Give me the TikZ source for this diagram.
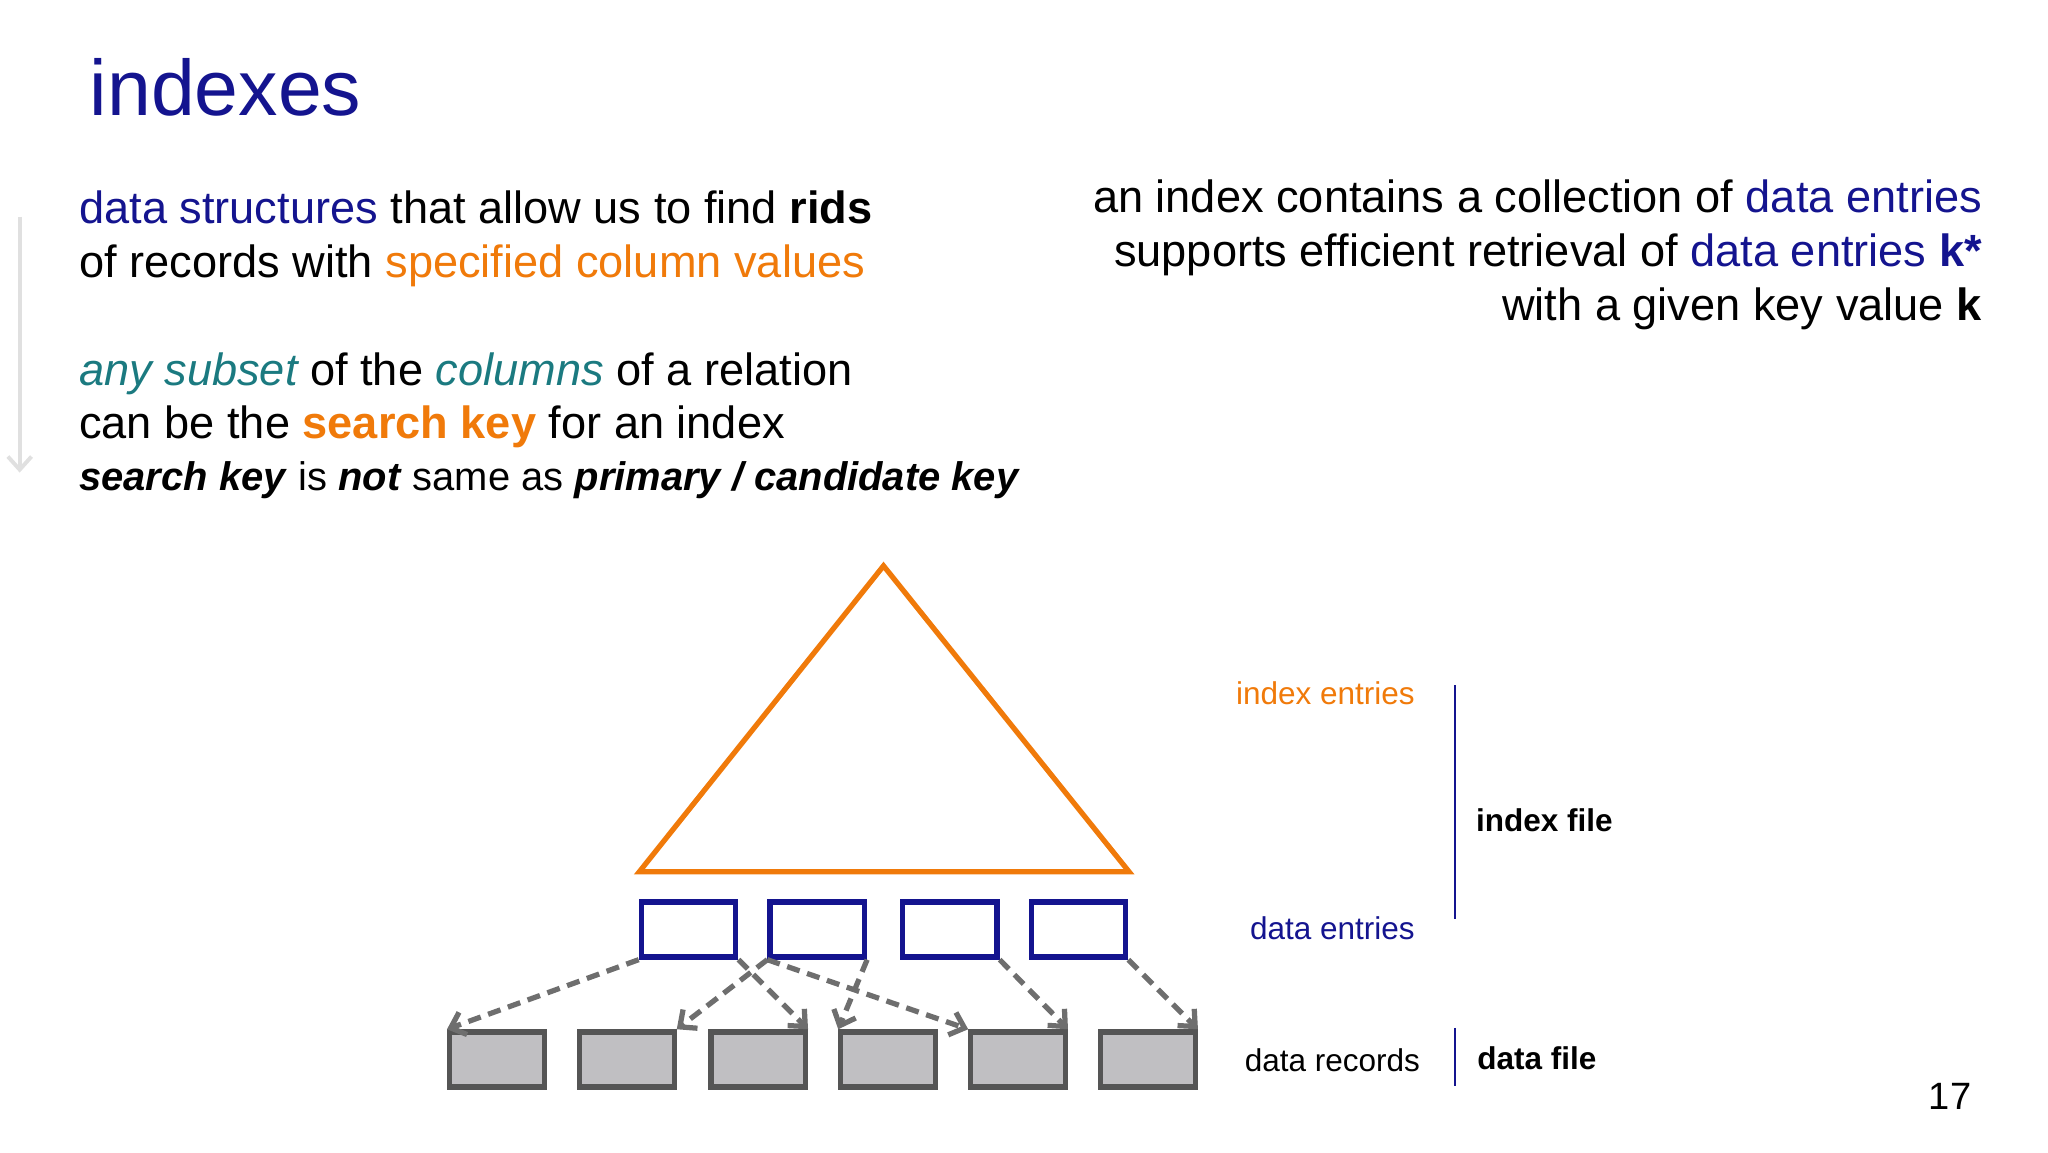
\documentclass[tikz,border=0pt]{standalone}
\usepackage{fontspec}
\setmainfont{Liberation Sans}
\usetikzlibrary{arrows.meta}
\definecolor{navy}{HTML}{14148F}
\definecolor{orng}{HTML}{F07A0A}
\definecolor{teal2}{HTML}{1B7A80}
\definecolor{recfill}{HTML}{C0BFC2}
\definecolor{recline}{HTML}{555555}
\tikzset{
  txt/.style={anchor=base west, inner sep=0pt, font=\fontsize{17.2}{20}\selectfont},
  rtxt/.style={anchor=base east, inner sep=0pt, font=\fontsize{17.2}{20}\selectfont},
  lbl/.style={anchor=base east, inner sep=0pt, font=\fontsize{12}{14}\selectfont},
  entry/.style={draw=navy, line width=2pt, minimum width=36pt, minimum height=21pt, inner sep=0pt},
  record/.style={draw=recline, fill=recfill, line width=2pt, minimum width=36pt, minimum height=21pt, inner sep=0pt},
  ptr/.style={draw=recline!85, line width=2pt, dash pattern=on 5pt off 3pt, -{Straight Barb[length=5pt,width=9pt]}}
}
\begin{document}
\begin{tikzpicture}[x=0.5pt, y=-0.5pt]
    \useasboundingbox (0,0) rectangle (1560,878);
    % title and text
    \node[txt, text=navy, font=\fontsize{30}{34}\selectfont] (title) at (68,88) {indexes};
    \node[txt] (l1) at (60,170) {\textcolor{navy}{data structures} that allow us to find \textbf{rids}};
    \node[txt] (l2) at (60,211) {of records with \textcolor{orng}{specified column values}};
    \node[txt] (l3) at (60,294) {\textcolor{teal2}{\itshape any subset} of the \textcolor{teal2}{\itshape columns} of a relation};
    \node[txt] (l4) at (60,334) {can be the \textcolor{orng}{\bfseries search key} for an index};
    \node[txt, font=\fontsize{15.2}{18}\selectfont] (l5) at (60,374) {\textbf{\itshape search key} is \textbf{\itshape not} same as \textbf{\itshape primary / candidate key}};
    \node[rtxt] (r1) at (1510,162) {an index contains a collection of \textcolor{navy}{data entries}};
    \node[rtxt] (r2) at (1510,203) {supports efficient retrieval of \textcolor{navy}{data entries \textbf{k*}}};
    \node[rtxt] (r3) at (1510,244) {with a given key value \textbf{k}};
    \draw[black!12, line width=1.5pt, -{Straight Barb[length=5pt,width=9pt]}] (15,165) -- (15,360);
    % index tree
    \draw[orng, line width=2pt, line join=miter] (673,431) -- (860,664) -- (487,664) -- cycle;
    \foreach \x [count=\i] in {524.5,622.5,723.5,821.5}
        \node[entry] (e\i) at (\x,708) {};
    \foreach \x [count=\i] in {378.5,477.5,577.5,676.5,775.5,874.5}
        \node[record] (d\i) at (\x,807) {};
    % pointers
    \draw[ptr] (e1.south west) -- (d1.north west);
    \draw[ptr] (e1.south east) -- (d3.north east);
    \draw[ptr] (e2.south west) -- (d2.north east);
    \draw[ptr] (e2.south west) -- (d5.north west);
    \draw[ptr] (e2.south east) -- (d4.north west);
    \draw[ptr] (e3.south east) -- (d5.north east);
    \draw[ptr] (e4.south east) -- (d6.north east);
    % labels
    \node[lbl, text=orng] (ie) at (1078,537) {index entries};
    \node[lbl, text=navy] (de) at (1078,716) {data entries};
    \node[lbl] (dr) at (1082,816) {data records};
    \coordinate (b1) at (1108,522);
    \coordinate (b2) at (1108,700);
    \coordinate (b3) at (1108,783);
    \coordinate (b4) at (1108,827);
    \draw[navy, line width=0.8pt] (b1) -- (b2);
    \draw[navy, line width=0.8pt] (b3) -- (b4);
    \node[txt, font=\fontsize{12}{14}\selectfont\bfseries] (if) at (1124,633) {index file};
    \node[txt, font=\fontsize{12}{14}\selectfont\bfseries] (df) at (1125,815) {data file};
    \node[rtxt, font=\fontsize{14.5}{17}\selectfont] (pg) at (1502,845) {17};
\end{tikzpicture}
\end{document}
